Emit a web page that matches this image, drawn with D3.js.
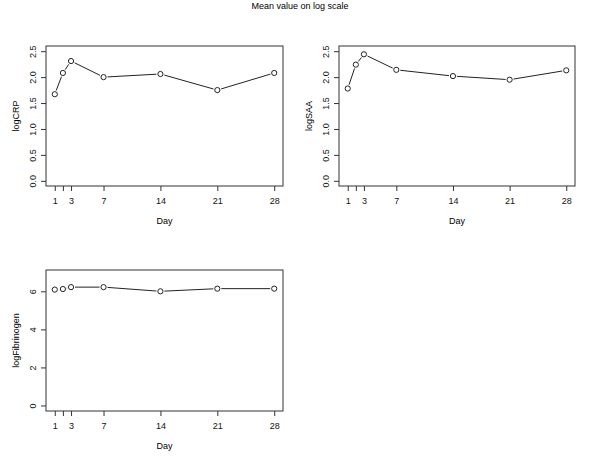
<!DOCTYPE html>
<html>
<head>
<meta charset="utf-8">
<script src="https://cdn.jsdelivr.net/npm/d3@7"></script>
<style>
  body { margin: 0; background: #fff; }
  svg { font-family: "Liberation Sans", Arial, sans-serif; }
</style>
</head>
<body>
<script>
// values
const days = [1, 2, 3, 7, 14, 21, 28];
const dayLabels = ["1", "", "3", "7", "14", "21", "28"];
const logCRP = [1.67, 2.08, 2.31, 2.0, 2.06, 1.75, 2.08];
const logSAA = [1.78, 2.24, 2.44, 2.14, 2.02, 1.95, 2.13];
const logFibrinogen = [6.09, 6.12, 6.22, 6.22, 6.0, 6.14, 6.14];
const ticksSmall = [0, 0.5, 1, 1.5, 2, 2.5];
const ticksFib = [0, 2, 4, 6];

const width = 600;
const height = 465;

const svg = d3.select("body").append("svg")
  .attr("width", width)
  .attr("height", height);

svg.append("text")
  .attr("x", 300)
  .attr("y", 9)
  .attr("text-anchor", "middle")
  .style("font-size", "9px")
  .text("Mean value on log scale");

const panels = [
  { name: "logCRP", values: logCRP, ticks: ticksSmall, fmt: d3.format(".1f"),
    domain: [-0.1, 2.6], left: 46, right: 283, top: 46, bottom: 186 },
  { name: "logSAA", values: logSAA, ticks: ticksSmall, fmt: d3.format(".1f"),
    domain: [-0.1, 2.6], left: 339, right: 575, top: 46, bottom: 186 },
  { name: "logFibrinogen", values: logFibrinogen, ticks: ticksFib, fmt: d3.format("d"),
    domain: [-0.29, 7.12], left: 46, right: 283, top: 270, bottom: 411 }
];

panels.forEach(p => {
  const x = d3.scaleLinear().domain([1 - 27 * 0.04, 28 + 27 * 0.04]).range([p.left, p.right]);
  const y = d3.scaleLinear().domain(p.domain).range([p.bottom, p.top]);
  const g = svg.append("g");

  // x axis
  const xa = g.append("g")
    .attr("transform", `translate(0,${p.bottom})`)
    .call(d3.axisBottom(x).tickValues(days).tickSize(5)
      .tickFormat((d, i) => dayLabels[i]));
  xa.select(".domain").remove();
  xa.selectAll("line").attr("stroke", "#333");
  xa.selectAll("text").attr("y", 12).attr("dy", "0.71em")
    .style("font-size", "9px").attr("fill", "#111").attr("font-family", null);
  xa.attr("font-family", null).attr("font-size", null);

  // y axis
  const ya = g.append("g")
    .attr("transform", `translate(${p.left},0)`)
    .call(d3.axisLeft(y).tickValues(p.ticks).tickSize(5).tickFormat(p.fmt));
  ya.select(".domain").remove();
  ya.selectAll("line").attr("stroke", "#333");
  ya.selectAll("text")
    .attr("x", 0).attr("dy", 0).attr("y", -10)
    .attr("transform", "rotate(-90)")
    .attr("text-anchor", "middle")
    .style("font-size", "9px").attr("fill", "#111");
  ya.attr("font-family", null).attr("font-size", null);

  // box
  g.append("rect")
    .attr("x", p.left).attr("y", p.top)
    .attr("width", p.right - p.left).attr("height", p.bottom - p.top)
    .attr("fill", "none").attr("stroke", "#333").attr("stroke-width", 1);

  // axis titles
  g.append("text")
    .attr("x", (p.left + p.right) / 2)
    .attr("y", p.bottom + 38)
    .attr("text-anchor", "middle")
    .style("font-size", "9px")
    .text("Day");

  g.append("text")
    .attr("transform", `translate(${p.left - 27},${(p.top + p.bottom) / 2}) rotate(-90)`)
    .attr("text-anchor", "middle")
    .style("font-size", "9px")
    .text(p.name);

  // type = "b": segments with gaps around points
  const pts = days.map((d, i) => [x(d), y(p.values[i])]);
  const gap = 4;
  const segs = [];
  for (let i = 0; i < pts.length - 1; i++) {
    const [x1, y1] = pts[i];
    const [x2, y2] = pts[i + 1];
    const len = Math.hypot(x2 - x1, y2 - y1);
    if (len <= 2 * gap) continue;
    const ux = (x2 - x1) / len, uy = (y2 - y1) / len;
    segs.push([x1 + ux * gap, y1 + uy * gap, x2 - ux * gap, y2 - uy * gap]);
  }
  g.selectAll(".seg").data(segs).enter().append("line")
    .attr("class", "seg")
    .attr("x1", s => s[0]).attr("y1", s => s[1])
    .attr("x2", s => s[2]).attr("y2", s => s[3])
    .attr("stroke", "#222").attr("stroke-width", 1);

  g.selectAll(".pt").data(pts).enter().append("circle")
    .attr("class", "pt")
    .attr("cx", d => d[0]).attr("cy", d => d[1])
    .attr("r", 2.6)
    .attr("fill", "none").attr("stroke", "#222").attr("stroke-width", 1);
});
</script>
</body>
</html>
